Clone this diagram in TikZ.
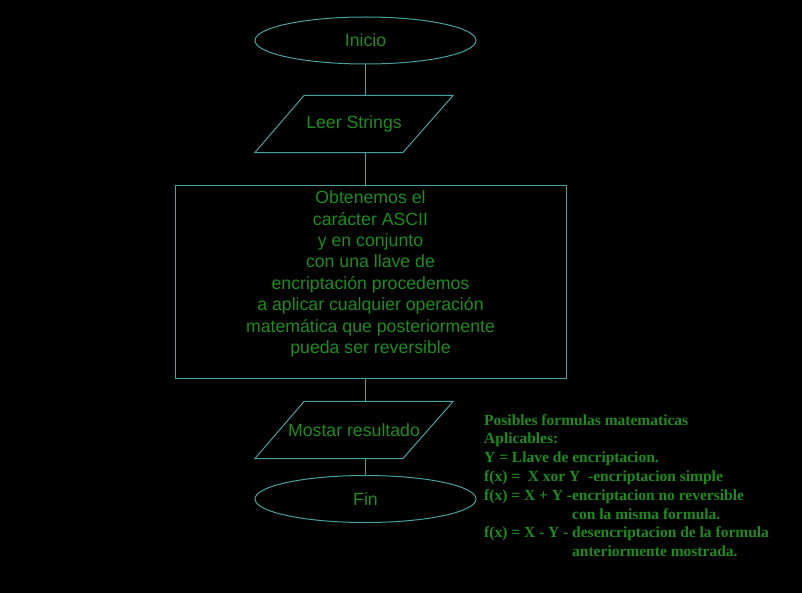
\documentclass[tikz,border=0pt]{standalone}
\usepackage{fontspec}
\setmainfont{Liberation Serif}
\setsansfont{Liberation Sans}
\usetikzlibrary{shapes.geometric}
\definecolor{edgec}{RGB}{70,160,160}
\definecolor{txtc}{RGB}{30,140,30}
\begin{document}
\begin{tikzpicture}[x=1pt,y=-1pt,
  lbl/.style={text=txtc, font=\sffamily\fontsize{17.7}{21.4}\selectfont, inner sep=0pt},
  term/.style={ellipse, draw=edgec, line width=1pt, minimum width=221pt, minimum height=47pt, inner sep=0pt, lbl},
  io/.style={rectangle, minimum width=198pt, minimum height=57pt, inner sep=0pt, lbl},
  ioline/.style={draw=edgec, line width=1pt, line join=miter},
  procbox/.style={rectangle, draw=edgec, line width=1pt, minimum width=391pt, minimum height=192pt, inner sep=0pt},
  conn/.style={draw=edgec, line width=1pt},
  note/.style={text=txtc, font=\bfseries\fontsize{15.5}{18.8}\selectfont, align=left, inner sep=0pt}]
\fill[black] (0,0) rectangle (802,593);
\useasboundingbox (0,0) rectangle (802,593);

\node[term] (inicio) at (365.5,40.5) {Inicio};
\node[io] (leer) at (354,124) {Leer Strings};
\draw[ioline] (leer.south west) -- ++(148,0) -- (leer.north east) -- ++(-149,0) -- cycle;
\node[procbox] (proc) at (370.5,282) {};
\node[lbl, align=center] (proctext) at (370.5,274) {Obtenemos el\\carácter ASCII\\y en conjunto\\con una llave de\\encriptación procedemos\\a aplicar cualquier operación\\matemática que posteriormente\\pueda ser reversible};
\node[io] (mostrar) at (354,430) {Mostar resultado};
\draw[ioline] (mostrar.south west) -- ++(148,0) -- (mostrar.north east) -- ++(-149,0) -- cycle;
\node[term] (fin) at (365.5,499) {Fin};

\draw[conn] (inicio.south) -- (inicio.south |- leer.north);
\draw[conn] (leer.south -| inicio.south) -- (proc.north -| inicio.south);
\draw[conn] (proc.south -| inicio.south) -- (mostrar.north -| inicio.south);
\draw[conn] (mostrar.south -| inicio.south) -- (fin.north);

\node[note, anchor=north west] (formulas) at (484,414) {Posibles formulas matematicas\\
Aplicables:\\
Y = Llave de encriptacion.\\
f(x) = \ X xor Y \ -encriptacion simple\\
f(x) = X + Y -encriptacion no reversible\\
\hspace*{88pt}con la misma formula.\\
f(x) = X - Y - desencriptacion de la formula\\
\hspace*{88pt}anteriormente mostrada.};
\end{tikzpicture}
\end{document}
